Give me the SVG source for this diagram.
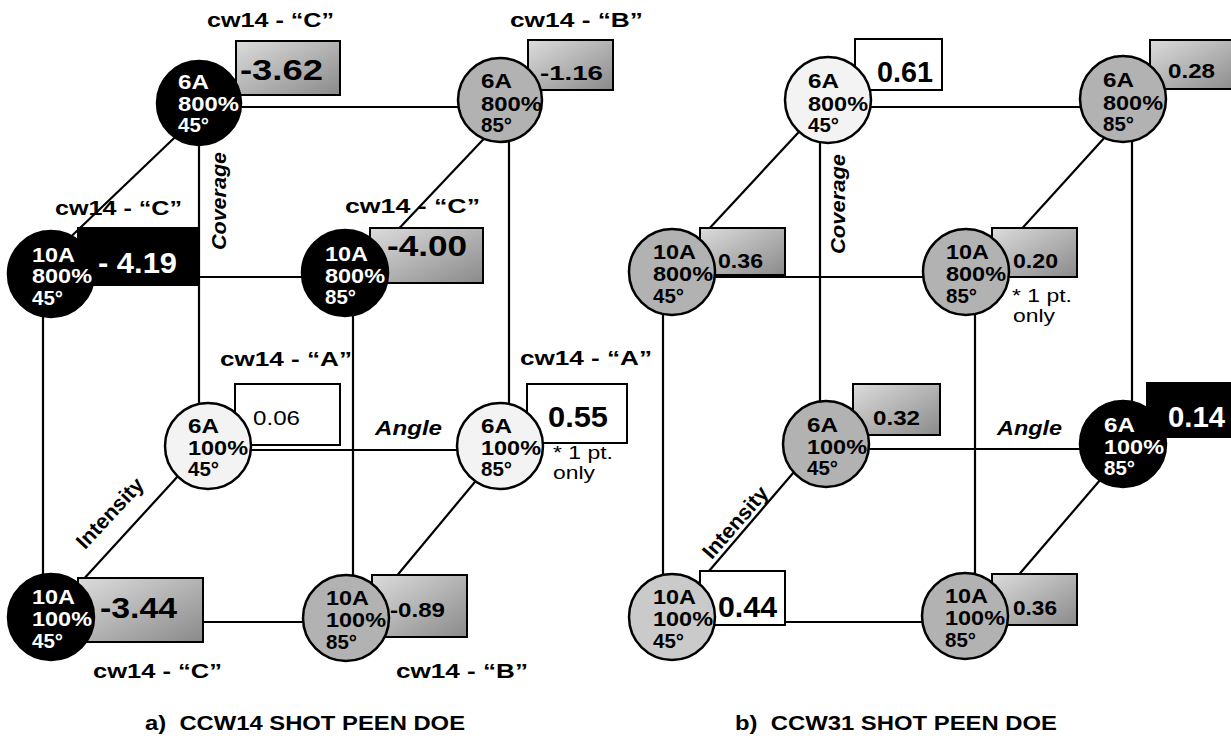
<svg xmlns="http://www.w3.org/2000/svg" width="1231" height="742" viewBox="0 0 1231 742">
<style>
text{font-family:"Liberation Sans",Arial,sans-serif;fill:#000}
.nt{font-size:20px;font-weight:bold}
.w{fill:#fff}
.lbl{font-size:20px;font-weight:bold}
.ax{font-size:21px;font-weight:bold;font-style:italic}
.big{font-size:29px;font-weight:bold}
.sm{font-size:20px;font-weight:bold}
.reg{font-size:20px}
.note{font-size:18px}
.cap{font-size:20px;font-weight:bold;white-space:pre}
.c{stroke:#000;stroke-width:2.5}
.blk{fill:#000}
.gry{fill:#b2b2b2}
.lgt{fill:#cacaca}
.wht{fill:#f3f3f3}
.bx{stroke:#000;stroke-width:2}
.bxg{fill:url(#gg)}
.bxw{fill:#fff}
.bxb{fill:#000}
#conn line{stroke:#000;stroke-width:2.2}
</style>
<defs>
<linearGradient id="gg" x1="0" y1="0" x2="1" y2="1">
<stop offset="0" stop-color="#dcdcdc"/>
<stop offset="1" stop-color="#8a8a8a"/>
</linearGradient>
</defs>
<rect width="1231" height="742" fill="#fff"/>
<g id="conn">
<line x1="199" y1="107" x2="501" y2="107"/>
<line x1="199" y1="103" x2="199" y2="446"/>
<line x1="509" y1="100" x2="509" y2="446"/>
<line x1="50" y1="277" x2="345" y2="277"/>
<line x1="43" y1="273" x2="43" y2="617"/>
<line x1="353" y1="273" x2="353" y2="618"/>
<line x1="208" y1="450" x2="500" y2="450"/>
<line x1="50" y1="622" x2="346" y2="622"/>
<line x1="193" y1="120" x2="57" y2="250"/>
<line x1="495" y1="127" x2="390" y2="238"/>
<line x1="190" y1="463" x2="70" y2="594"/>
<line x1="489" y1="465" x2="385" y2="590"/>
<line x1="828" y1="107" x2="1123" y2="107"/>
<line x1="820" y1="100" x2="820" y2="444"/>
<line x1="1132" y1="99" x2="1132" y2="444"/>
<line x1="672" y1="277" x2="966" y2="277"/>
<line x1="663" y1="272" x2="663" y2="617"/>
<line x1="975" y1="272" x2="975" y2="616"/>
<line x1="826" y1="449" x2="1123" y2="449"/>
<line x1="672" y1="622" x2="965" y2="622"/>
<line x1="810" y1="120" x2="694" y2="245"/>
<line x1="1116" y1="125" x2="1007" y2="245"/>
<line x1="800" y1="465" x2="697" y2="585"/>
<line x1="1113" y1="465" x2="1010" y2="585"/>
</g>
<g id="axis-labels">
<text class="ax" transform="rotate(-90 226 201)" x="226" y="201" text-anchor="middle" textLength="98" lengthAdjust="spacingAndGlyphs">Coverage</text>
<text class="ax" x="375" y="435" textLength="67" lengthAdjust="spacingAndGlyphs">Angle</text>
<text class="ax" transform="translate(115 518) rotate(-47)" x="0" y="0" text-anchor="middle" textLength="88" lengthAdjust="spacingAndGlyphs" style="font-style:normal">Intensity</text>
<text class="ax" transform="rotate(-90 845 204)" x="845" y="204" text-anchor="middle" textLength="100" lengthAdjust="spacingAndGlyphs">Coverage</text>
<text class="ax" x="997" y="435" textLength="65" lengthAdjust="spacingAndGlyphs">Angle</text>
<text class="ax" transform="translate(743 529) rotate(-49)" x="0" y="-3" text-anchor="middle" textLength="88" lengthAdjust="spacingAndGlyphs" style="font-style:normal">Intensity</text>
</g>
<g id="a-6A-800-45">
<rect class="bx bxg" x="236" y="41" width="104" height="54"/>
<text class="big" x="240" y="80" textLength="83" lengthAdjust="spacingAndGlyphs">-3.62</text>
<circle class="c blk" cx="199" cy="103" r="42"/>
<text class="nt w" x="178" y="89" textLength="31" lengthAdjust="spacingAndGlyphs">6A</text>
<text class="nt w" x="178" y="111" textLength="61" lengthAdjust="spacingAndGlyphs">800%</text>
<text class="nt w" x="178" y="132" textLength="31" lengthAdjust="spacingAndGlyphs">45°</text>
<text class="lbl" x="207" y="27" textLength="127" lengthAdjust="spacingAndGlyphs">cw14 - “C”</text>
</g>
<g id="a-6A-800-85">
<rect class="bx bxg" x="528" y="40" width="85" height="50"/>
<text class="sm" x="540" y="80" textLength="63" lengthAdjust="spacingAndGlyphs">-1.16</text>
<circle class="c gry" cx="500" cy="100" r="42"/>
<text class="nt" x="481" y="88" textLength="31" lengthAdjust="spacingAndGlyphs">6A</text>
<text class="nt" x="481" y="111" textLength="61" lengthAdjust="spacingAndGlyphs">800%</text>
<text class="nt" x="481" y="132" textLength="31" lengthAdjust="spacingAndGlyphs">85°</text>
<text class="lbl" x="510" y="27" textLength="133" lengthAdjust="spacingAndGlyphs">cw14 - “B”</text>
</g>
<g id="a-10A-800-45">
<rect class="bx bxb" x="78" y="228" width="119" height="57"/>
<text class="big w" x="98" y="273" textLength="79" lengthAdjust="spacingAndGlyphs">- 4.19</text>
<circle class="c blk" cx="51" cy="274" r="43"/>
<text class="nt w" x="32" y="262" textLength="43" lengthAdjust="spacingAndGlyphs">10A</text>
<text class="nt w" x="32" y="283" textLength="60" lengthAdjust="spacingAndGlyphs">800%</text>
<text class="nt w" x="32" y="305" textLength="31" lengthAdjust="spacingAndGlyphs">45°</text>
<text class="lbl" x="55" y="215" textLength="127" lengthAdjust="spacingAndGlyphs">cw14 - “C”</text>
</g>
<g id="a-10A-800-85">
<rect class="bx bxg" x="370" y="228" width="113" height="55"/>
<text class="big" x="387" y="256" textLength="80" lengthAdjust="spacingAndGlyphs">-4.00</text>
<circle class="c blk" cx="345" cy="273" r="43"/>
<text class="nt w" x="325" y="261" textLength="43" lengthAdjust="spacingAndGlyphs">10A</text>
<text class="nt w" x="325" y="283" textLength="60" lengthAdjust="spacingAndGlyphs">800%</text>
<text class="nt w" x="325" y="304" textLength="31" lengthAdjust="spacingAndGlyphs">85°</text>
<text class="lbl" x="345" y="213" textLength="135" lengthAdjust="spacingAndGlyphs">cw14 - “C”</text>
</g>
<g id="a-6A-100-45">
<rect class="bx bxw" x="235" y="384" width="105" height="61"/>
<text class="reg" x="253" y="425" textLength="47" lengthAdjust="spacingAndGlyphs">0.06</text>
<circle class="c wht" cx="208" cy="446" r="43"/>
<text class="nt" x="188" y="433" textLength="31" lengthAdjust="spacingAndGlyphs">6A</text>
<text class="nt" x="188" y="455" textLength="60" lengthAdjust="spacingAndGlyphs">100%</text>
<text class="nt" x="188" y="476" textLength="31" lengthAdjust="spacingAndGlyphs">45°</text>
<text class="lbl" x="220" y="366" textLength="132" lengthAdjust="spacingAndGlyphs">cw14 - “A”</text>
</g>
<g id="a-6A-100-85">
<rect class="bx bxw" x="527" y="384" width="100" height="59"/>
<text class="big" x="548" y="427" textLength="60" lengthAdjust="spacingAndGlyphs">0.55</text>
<circle class="c wht" cx="500" cy="446" r="43"/>
<text class="nt" x="481" y="433" textLength="31" lengthAdjust="spacingAndGlyphs">6A</text>
<text class="nt" x="481" y="455" textLength="60" lengthAdjust="spacingAndGlyphs">100%</text>
<text class="nt" x="481" y="476" textLength="31" lengthAdjust="spacingAndGlyphs">85°</text>
<text class="note" x="553" y="459" textLength="60" lengthAdjust="spacingAndGlyphs">* 1 pt.</text>
<text class="note" x="553" y="479" textLength="42" lengthAdjust="spacingAndGlyphs">only</text>
<text class="lbl" x="520" y="365" textLength="132" lengthAdjust="spacingAndGlyphs">cw14 - “A”</text>
</g>
<g id="a-10A-100-45">
<rect class="bx bxg" x="78" y="578" width="125" height="64"/>
<text class="big" x="100" y="618" textLength="77" lengthAdjust="spacingAndGlyphs">-3.44</text>
<circle class="c blk" cx="51" cy="617" r="43"/>
<text class="nt w" x="32" y="604" textLength="43" lengthAdjust="spacingAndGlyphs">10A</text>
<text class="nt w" x="32" y="626" textLength="60" lengthAdjust="spacingAndGlyphs">100%</text>
<text class="nt w" x="32" y="648" textLength="31" lengthAdjust="spacingAndGlyphs">45°</text>
<text class="lbl" x="93" y="678" textLength="129" lengthAdjust="spacingAndGlyphs">cw14 - “C”</text>
</g>
<g id="a-10A-100-85">
<rect class="bx bxg" x="372" y="575" width="95" height="62"/>
<text class="sm" x="390" y="617" textLength="55" lengthAdjust="spacingAndGlyphs">-0.89</text>
<circle class="c gry" cx="346" cy="618" r="43"/>
<text class="nt" x="326" y="605" textLength="43" lengthAdjust="spacingAndGlyphs">10A</text>
<text class="nt" x="326" y="627" textLength="60" lengthAdjust="spacingAndGlyphs">100%</text>
<text class="nt" x="326" y="649" textLength="31" lengthAdjust="spacingAndGlyphs">85°</text>
<text class="lbl" x="396" y="678" textLength="132" lengthAdjust="spacingAndGlyphs">cw14 - “B”</text>
</g>
<g id="b-6A-800-45">
<rect class="bx bxw" x="855" y="39" width="87" height="51"/>
<text class="big" x="877" y="82" textLength="56" lengthAdjust="spacingAndGlyphs">0.61</text>
<circle class="c wht" cx="828" cy="100" r="43"/>
<text class="nt" x="808" y="88" textLength="31" lengthAdjust="spacingAndGlyphs">6A</text>
<text class="nt" x="808" y="111" textLength="60" lengthAdjust="spacingAndGlyphs">800%</text>
<text class="nt" x="808" y="132" textLength="31" lengthAdjust="spacingAndGlyphs">45°</text>
</g>
<g id="b-6A-800-85">
<rect class="bx bxg" x="1150" y="40" width="90" height="49"/>
<text class="sm" x="1168" y="78" textLength="47" lengthAdjust="spacingAndGlyphs">0.28</text>
<circle class="c gry" cx="1123" cy="99" r="43"/>
<text class="nt" x="1103" y="87" textLength="31" lengthAdjust="spacingAndGlyphs">6A</text>
<text class="nt" x="1103" y="110" textLength="60" lengthAdjust="spacingAndGlyphs">800%</text>
<text class="nt" x="1103" y="131" textLength="31" lengthAdjust="spacingAndGlyphs">85°</text>
</g>
<g id="b-10A-800-45">
<rect class="bx bxg" x="700" y="228" width="85" height="47"/>
<text class="sm" x="718" y="268" textLength="45" lengthAdjust="spacingAndGlyphs">0.36</text>
<circle class="c gry" cx="672" cy="272" r="43"/>
<text class="nt" x="653" y="259" textLength="43" lengthAdjust="spacingAndGlyphs">10A</text>
<text class="nt" x="653" y="281" textLength="60" lengthAdjust="spacingAndGlyphs">800%</text>
<text class="nt" x="653" y="303" textLength="31" lengthAdjust="spacingAndGlyphs">45°</text>
</g>
<g id="b-10A-800-85">
<rect class="bx bxg" x="992" y="228" width="85" height="49"/>
<text class="sm" x="1013" y="268" textLength="45" lengthAdjust="spacingAndGlyphs">0.20</text>
<circle class="c gry" cx="966" cy="272" r="43"/>
<text class="nt" x="946" y="259" textLength="43" lengthAdjust="spacingAndGlyphs">10A</text>
<text class="nt" x="946" y="281" textLength="60" lengthAdjust="spacingAndGlyphs">800%</text>
<text class="nt" x="946" y="303" textLength="31" lengthAdjust="spacingAndGlyphs">85°</text>
<text class="note" x="1012" y="302" textLength="60" lengthAdjust="spacingAndGlyphs">* 1 pt.</text>
<text class="note" x="1013" y="322" textLength="42" lengthAdjust="spacingAndGlyphs">only</text>
</g>
<g id="b-6A-100-45">
<rect class="bx bxg" x="853" y="384" width="87" height="51"/>
<text class="sm" x="873" y="425" textLength="47" lengthAdjust="spacingAndGlyphs">0.32</text>
<circle class="c gry" cx="826" cy="444" r="43"/>
<text class="nt" x="807" y="432" textLength="31" lengthAdjust="spacingAndGlyphs">6A</text>
<text class="nt" x="807" y="454" textLength="60" lengthAdjust="spacingAndGlyphs">100%</text>
<text class="nt" x="807" y="475" textLength="31" lengthAdjust="spacingAndGlyphs">45°</text>
</g>
<g id="b-6A-100-85">
<rect class="bx bxb" x="1147" y="383" width="90" height="54"/>
<text class="big w" x="1168" y="427" textLength="57" lengthAdjust="spacingAndGlyphs">0.14</text>
<circle class="c blk" cx="1123" cy="444" r="43"/>
<text class="nt w" x="1104" y="432" textLength="31" lengthAdjust="spacingAndGlyphs">6A</text>
<text class="nt w" x="1104" y="454" textLength="60" lengthAdjust="spacingAndGlyphs">100%</text>
<text class="nt w" x="1104" y="475" textLength="31" lengthAdjust="spacingAndGlyphs">85°</text>
</g>
<g id="b-10A-100-45">
<rect class="bx bxw" x="700" y="571" width="85" height="54"/>
<text class="big" x="718" y="617" textLength="59" lengthAdjust="spacingAndGlyphs">0.44</text>
<circle class="c lgt" cx="672" cy="617" r="43"/>
<text class="nt" x="653" y="604" textLength="43" lengthAdjust="spacingAndGlyphs">10A</text>
<text class="nt" x="653" y="626" textLength="60" lengthAdjust="spacingAndGlyphs">100%</text>
<text class="nt" x="653" y="648" textLength="31" lengthAdjust="spacingAndGlyphs">45°</text>
</g>
<g id="b-10A-100-85">
<rect class="bx bxg" x="992" y="574" width="85" height="51"/>
<text class="sm" x="1013" y="615" textLength="44" lengthAdjust="spacingAndGlyphs">0.36</text>
<circle class="c gry" cx="965" cy="616" r="43"/>
<text class="nt" x="945" y="603" textLength="43" lengthAdjust="spacingAndGlyphs">10A</text>
<text class="nt" x="945" y="625" textLength="60" lengthAdjust="spacingAndGlyphs">100%</text>
<text class="nt" x="945" y="647" textLength="31" lengthAdjust="spacingAndGlyphs">85°</text>
</g>
<g id="captions">
<text class="cap" x="145" y="730" textLength="320" lengthAdjust="spacingAndGlyphs">a)  CCW14 SHOT PEEN DOE</text>
<text class="cap" x="735" y="730" textLength="322" lengthAdjust="spacingAndGlyphs">b)  CCW31 SHOT PEEN DOE</text>
</g>
</svg>
